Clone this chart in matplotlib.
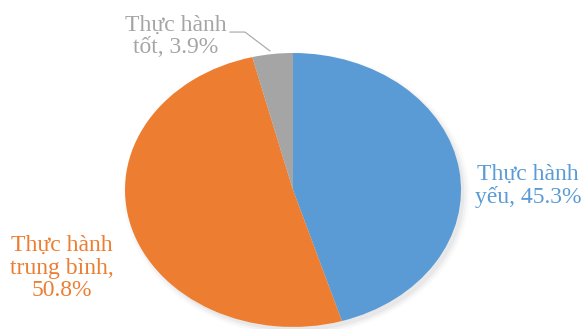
import matplotlib.pyplot as plt
from matplotlib.patches import Ellipse

# Data
labels = ['Thực hành\nyếu, 45.3%', 'Thực hành\ntrung bình,\n50.8%', 'Thực hành\ntốt, 3.9%']
values = [45.3, 50.8, 3.9]
colors = ['#5B9BD5', '#ED7D31', '#A5A5A5']

fig = plt.figure(figsize=(5.84, 3.29), dpi=100)
ax = fig.add_axes([0, 0, 1, 1])

# soft shadow under the pie
for i, a in enumerate([0.04, 0.03, 0.02]):
    ax.add_patch(Ellipse((0.02, -0.03), 2.0 + 0.03 * i, 2.0 + 0.03 * i,
                         color='black', alpha=a, lw=0, zorder=0))

wedges, _ = ax.pie(values, colors=colors, startangle=90, counterclock=False,
                   wedgeprops=dict(linewidth=0))
for w in wedges:
    w.set_zorder(2)

ax.set_aspect('auto')
ax.set_xlim(-1.744, 1.732)
ax.set_ylim(-1.015, 1.387)
ax.axis('off')

font = dict(family='Liberation Serif', fontsize=17, ha='center', va='center',
            linespacing=1.08)
ax.text(1.40, 0.03, labels[0], color=colors[0], **font)
ax.text(-1.375, -0.57, labels[1], color=colors[1], **font)
ax.text(-0.70, 1.12, labels[2], color=colors[2], **font)

# leader line for the small slice
ax.plot([-0.375, -0.286, -0.137], [1.153, 1.153, 1.015], color='#A5A5A5', lw=0.8)

fig.savefig('out.png', dpi=100)
